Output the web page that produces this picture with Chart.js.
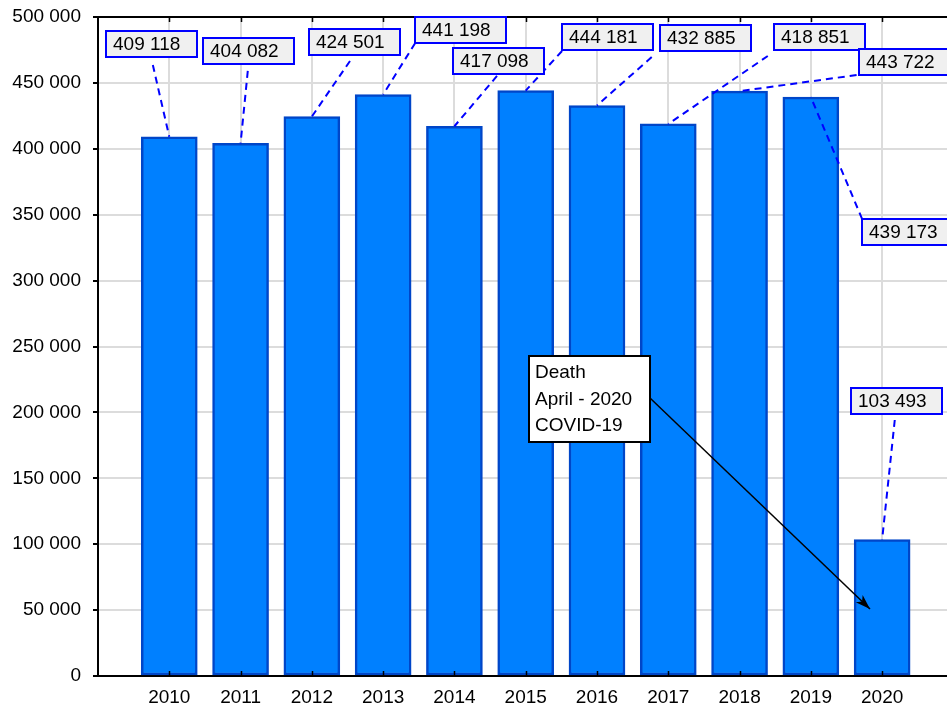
<!DOCTYPE html>
<html>
<head>
<meta charset="utf-8">
<script src="https://cdn.jsdelivr.net/npm/chart.js@4.4.1/dist/chart.umd.min.js"></script>
<style>
  html, body { margin: 0; padding: 0; background: #fff; overflow: hidden; }
  canvas { display: block; }
</style>
</head>
<body>
<canvas id="deathsChart" width="947" height="708"></canvas>
<script>
// Données du graphique
const years = [2010, 2011, 2012, 2013, 2014, 2015, 2016, 2017, 2018, 2019, 2020];
const deaths = [409118, 404082, 424501, 441198, 417098, 444181, 432885, 418851, 443722, 439173, 103493];
const noteLines = ['Death', 'April - 2020', 'COVID-19'];

// Position des étiquettes (coin haut-gauche, en unités des axes)
const calloutX = [2009.11, 2010.47, 2011.96, 2013.45, 2013.98, 2015.51, 2016.88, 2018.48, 2019.67, 2019.72, 2019.56];
const calloutY = [489400, 484100, 490900, 500000, 476500, 494700, 493900, 494700, 475700, 346700, 218500];
// départ du trait pointillé, décalage en px depuis le coin de l'étiquette
const leaderDX = [47, 45, 41, 0, 44, 0, -8, -6, -2, 0, 44];
const leaderDY = [34, 33, 32, 26, 28, 27, 32, 32, 26, 0, 32];

// Note "Death" et sa flèche
const noteBox = { x: 2015.045, y: 242800 };
const arrowEnd = { x: 2019.83, y: 50800 };

const FONT = '19px "Liberation Sans", Arial, sans-serif';

function fmt(v) {
  return String(v).replace(/\B(?=(\d{3})+(?!\d))/g, ' ');
}

const annotations = {
  id: 'annotations',
  afterDatasetsDraw(chart) {
    const ctx = chart.ctx;
    const xs = chart.scales.x, ys = chart.scales.y;
    const area = chart.chartArea;

    ctx.save();
    // cadre du haut + petites graduations intérieures
    ctx.strokeStyle = '#000';
    ctx.lineWidth = 2;
    ctx.beginPath();
    ctx.moveTo(area.left, area.top);
    ctx.lineTo(area.right, area.top);
    ctx.stroke();
    ctx.lineWidth = 1.5;
    years.forEach(y => {
      const px = Math.round(xs.getPixelForValue(y)) + 0.5;
      ctx.beginPath();
      ctx.moveTo(px, area.top); ctx.lineTo(px, area.top + 5);
      ctx.moveTo(px, area.bottom); ctx.lineTo(px, area.bottom - 5);
      ctx.stroke();
    });

    // traits pointillés vers le haut des barres
    ctx.strokeStyle = '#0000ff';
    ctx.lineWidth = 2;
    ctx.setLineDash([7, 5]);
    deaths.forEach((v, i) => {
      const bx = xs.getPixelForValue(calloutX[i]);
      const by = ys.getPixelForValue(calloutY[i]);
      ctx.beginPath();
      ctx.moveTo(bx + leaderDX[i], by + leaderDY[i]);
      ctx.lineTo(xs.getPixelForValue(years[i]), ys.getPixelForValue(v));
      ctx.stroke();
    });
    ctx.setLineDash([]);

    // étiquettes des valeurs
    ctx.font = FONT;
    ctx.textBaseline = 'middle';
    ctx.textAlign = 'left';
    deaths.forEach((v, i) => {
      const bx = Math.round(xs.getPixelForValue(calloutX[i]));
      const by = Math.round(ys.getPixelForValue(calloutY[i]));
      ctx.fillStyle = '#f0f0f0';
      ctx.fillRect(bx, by, 91, 26);
      ctx.strokeStyle = '#0000ff';
      ctx.lineWidth = 2;
      ctx.strokeRect(bx, by, 91, 26);
      ctx.fillStyle = '#000';
      ctx.fillText(fmt(v), bx + 7, by + 14);
    });

    // note COVID-19 avec flèche
    const nx = Math.round(xs.getPixelForValue(noteBox.x));
    const ny = Math.round(ys.getPixelForValue(noteBox.y));
    const ax = xs.getPixelForValue(arrowEnd.x);
    const ay = ys.getPixelForValue(arrowEnd.y);
    const sx = nx + 121, sy = ny + 42;
    ctx.strokeStyle = '#000';
    ctx.lineWidth = 1.5;
    ctx.beginPath();
    ctx.moveTo(sx, sy);
    ctx.lineTo(ax, ay);
    ctx.stroke();
    const ang = Math.atan2(ay - sy, ax - sx);
    ctx.fillStyle = '#000';
    ctx.beginPath();
    ctx.moveTo(ax, ay);
    ctx.lineTo(ax - 15 * Math.cos(ang) + 5 * Math.sin(ang), ay - 15 * Math.sin(ang) - 5 * Math.cos(ang));
    ctx.lineTo(ax - 11 * Math.cos(ang), ay - 11 * Math.sin(ang));
    ctx.lineTo(ax - 15 * Math.cos(ang) - 5 * Math.sin(ang), ay - 15 * Math.sin(ang) + 5 * Math.cos(ang));
    ctx.closePath();
    ctx.fill();

    ctx.fillStyle = '#fff';
    ctx.fillRect(nx, ny, 121, 86);
    ctx.lineWidth = 2;
    ctx.strokeRect(nx, ny, 121, 86);
    ctx.fillStyle = '#000';
    noteLines.forEach((t, k) => {
      ctx.fillText(t, nx + 6, ny + 17 + k * 26.5);
    });
    ctx.restore();
  }
};

new Chart(document.getElementById('deathsChart'), {
  type: 'bar',
  data: {
    datasets: [{
      data: years.map((y, i) => ({ x: y, y: deaths[i] })),
      backgroundColor: '#0080ff',
      borderColor: '#0046c8',
      borderWidth: 2.5,
      borderSkipped: false,
      barThickness: 56
    }]
  },
  options: {
    responsive: false,
    animation: false,
    layout: { padding: { top: 17, right: 0, bottom: 0, left: 0 } },
    plugins: { legend: { display: false }, tooltip: { enabled: false } },
    scales: {
      x: {
        type: 'linear',
        min: 2009,
        max: 2020.91,
        offset: false,
        afterFit: s => { s.height = 32; s.paddingLeft = 0; s.paddingRight = 0; },
        grid: { offset: false, color: '#dcdcdc', lineWidth: 2, drawTicks: false },
        border: { color: '#000', width: 2 },
        ticks: {
          stepSize: 1,
          includeBounds: false,
          padding: 10,
          maxRotation: 0,
          color: '#000',
          font: { family: '"Liberation Sans", Arial, sans-serif', size: 19 },
          callback: v => (v >= 2010 && v <= 2020) ? String(v) : ''
        }
      },
      y: {
        min: 0,
        max: 500000,
        afterFit: s => { s.width = 98; s.paddingTop = 0; s.paddingBottom = 0; },
        grid: { color: '#dcdcdc', lineWidth: 2, tickColor: '#000', tickLength: 5 },
        border: { color: '#000', width: 2 },
        ticks: {
          stepSize: 50000,
          padding: 12,
          color: '#000',
          font: { family: '"Liberation Sans", Arial, sans-serif', size: 19 },
          callback: v => fmt(v)
        }
      }
    }
  },
  plugins: [annotations]
});
</script>
</body>
</html>
